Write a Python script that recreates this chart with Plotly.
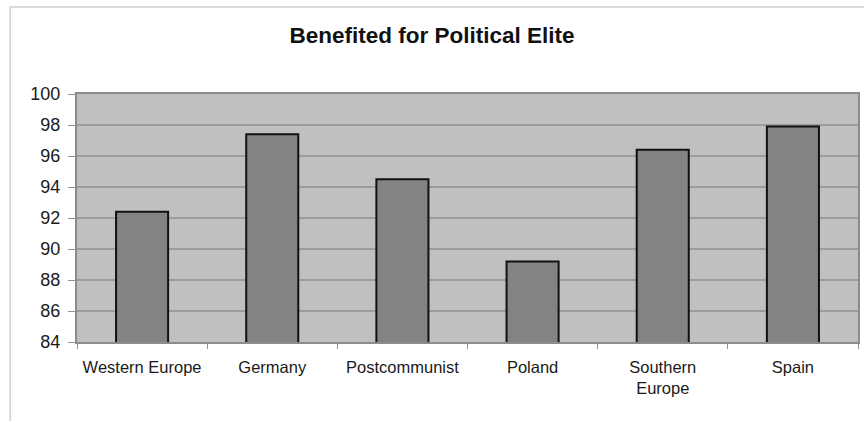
import plotly.graph_objects as go

# Survey results by region / country
categories = ["Western Europe", "Germany", "Postcommunist", "Poland",
              "Southern<br>Europe", "Spain"]
values = [92.4, 97.4, 94.5, 89.2, 96.4, 97.9]
y_ticks = [84, 86, 88, 90, 92, 94, 96, 98, 100]

W, H = 864, 421
# plot-area box in pixels
L, R, T, B = 77, 860, 94, 342

fig = go.Figure(
    go.Bar(
        x=categories,
        y=values,
        marker=dict(color="#838383", line=dict(color="#111111", width=2)),
        hoverinfo="x+y",
    )
)

def px_x(p):
    return (p - L) / (R - L)

def px_y(p):
    return (B - p) / (B - T)

fig.update_layout(
    width=W,
    height=H,
    margin=dict(l=L, r=W - R, t=T, b=H - B, pad=0),
    paper_bgcolor="white",
    plot_bgcolor="#c0c0c0",
    bargap=0.6,
    showlegend=False,
    font=dict(family="Arial, Liberation Sans, sans-serif", size=16, color="#1a1a1a"),
    title=dict(
        text="<b>Benefited for Political Elite</b>",
        x=0.5,
        xanchor="center",
        y=1 - 35 / H,
        yanchor="middle",
        font=dict(size=22.5, color="#111111"),
    ),
    xaxis=dict(
        tickson="boundaries",
        ticks="outside",
        ticklen=5,
        tickcolor="#909090",
        tickwidth=1,
        showline=True,
        linecolor="#8c8c8c",
        linewidth=2,
        mirror=True,
        showgrid=False,
        ticklabelstandoff=9,
        tickfont=dict(size=16.5),
    ),
    yaxis=dict(
        range=[84, 100],
        tickvals=y_ticks,
        ticks="outside",
        ticklen=7,
        tickcolor="#909090",
        tickwidth=1,
        showline=True,
        linecolor="#8c8c8c",
        linewidth=2,
        mirror=True,
        showgrid=True,
        gridcolor="#9c9c9c",
        gridwidth=1.5,
        zeroline=False,
        ticklabelstandoff=4,
        tickfont=dict(size=18),
    ),
    shapes=[
        # outer chart frame
        dict(
            type="rect",
            xref="paper",
            yref="paper",
            x0=px_x(10),
            x1=px_x(W + 20),
            y0=px_y(H + 20),
            y1=px_y(7),
            line=dict(color="#cfcfcf", width=1.5),
            fillcolor="rgba(0,0,0,0)",
            layer="below",
        )
    ],
)

fig.write_html("out.html")
